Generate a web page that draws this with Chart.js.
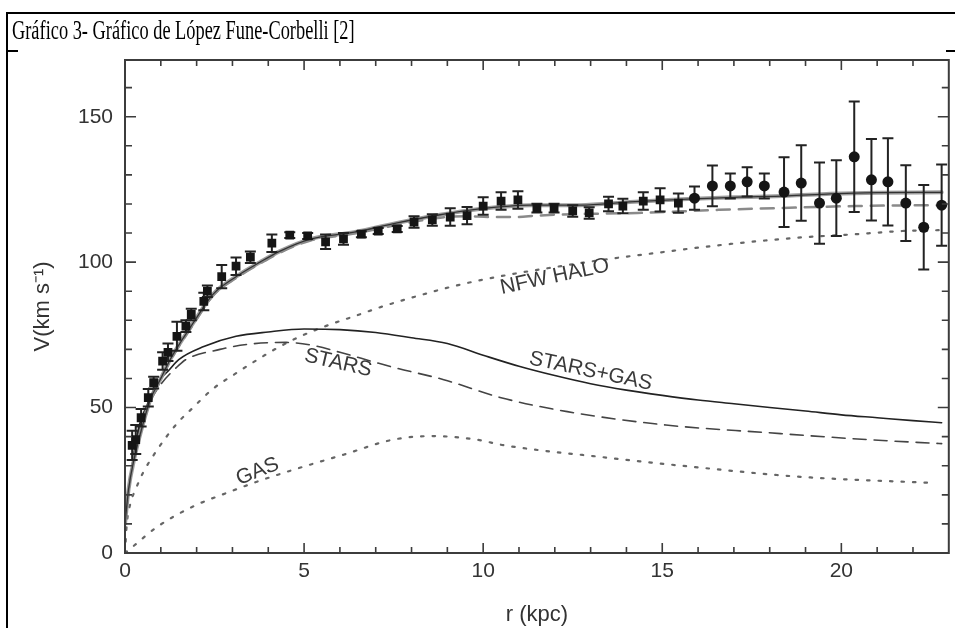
<!DOCTYPE html>
<html><head><meta charset="utf-8">
<script src="https://cdn.jsdelivr.net/npm/chart.js@4/dist/chart.umd.min.js"></script>
<style>
html,body{margin:0;padding:0;background:#fff;width:955px;height:628px;overflow:hidden;}
#wrap{position:relative;width:955px;height:628px;}
canvas{position:absolute;left:0;top:0;}
.ln{position:absolute;background:#000;}
#ttl{position:absolute;left:12px;top:17px;font-family:'Liberation Serif','Times New Roman',serif;font-size:27px;line-height:27px;white-space:nowrap;color:#000;transform:scaleX(0.68);transform-origin:0 0;}
</style></head><body>
<div id="wrap">
<canvas id="c" width="955" height="628"></canvas>
<div class="ln" style="left:6px;top:12px;width:949px;height:2px"></div>
<div class="ln" style="left:6px;top:12px;width:2px;height:616px"></div>
<div class="ln" style="left:6px;top:50px;width:12px;height:2px"></div>
<div class="ln" style="left:946px;top:50px;width:9px;height:2px"></div>
<div id="ttl">Gráfico 3- Gráfico de López Fune-Corbelli [2]</div>
</div>
<script>
// Observed rotation curve
const rData = [0.2,0.3,0.45,0.65,0.8,1.05,1.2,1.45,1.7,1.85,2.2,2.3,2.7,3.1,3.5,4.1,4.6,5.1,5.6,6.1,6.6,7.07,7.6,8.07,8.58,9.08,9.55,10.0,10.5,10.97,11.5,11.98,12.5,12.96,13.5,13.9,14.47,14.94,15.45,15.9,16.4,16.9,17.37,17.85,18.4,18.88,19.39,19.86,20.36,20.84,21.3,21.8,22.3,22.8];
const vData = [37,39,46.5,53.4,58.6,66,69,74.5,78,82,86.5,90,95,98.6,101.7,106.5,109.3,109,107,108,109.6,110.7,111.4,113.8,114.5,115.5,116,119.3,121,121.4,118.6,118.6,117.6,116.9,120,119.3,121,121.4,120.3,122,126.2,126.2,127.6,126.2,124.1,127.2,120.3,122,136.2,128.3,127.6,120.3,112,119.6];
const vErr = [5,5,3,3,2,3,3,5,2,2,3,2,4,3,2,3,1,1,2.5,2,1,1,1,2,2,3,3,3,3,3,1.5,1.5,2,2,2.5,2.5,3,4,3.3,4,7,4.3,5,4.3,12,13,14,13,19,14,15,13,14.5,14];

// Model curves
const totalR = [0,0.1,0.25,0.45,0.7,1,1.26,1.9,2.46,3.1,3.77,4.33,5.2,6.4,7.6,8.8,9.9,11.3,12.7,14.1,15.7,17,18.5,19.7,21,22.8];
const totalV = [10,22,32,42,52.5,60,66.5,79,89,95,100,103.8,108,110.3,113.5,116.3,118.3,119.6,119.6,120.7,121.7,122.3,122.8,123.5,123.9,124];
const totalDashR = [0,0.1,0.25,0.45,0.7,1,1.26,1.9,2.46,3.1,3.77,4.33,5.2,6.4,7.6,8.8,9.5,10.2,10.9,11.5,12.5,14.3,16.6,18.3,20.4,22.8];
const totalDashV = [10,22,32,42,52,59.5,66,78.5,88.5,94.5,99.5,103.3,107.5,109.8,112.8,115.3,115.8,115.5,115.5,116,116.5,116.9,118,118.6,119.3,119.6];
const haloR = [0,0.05,0.15,0.3,0.5,0.9,1.45,1.9,2.46,3,3.7,4.25,4.9,5.6,6.5,7.2,8.15,9.1,10,11,12,13,14,14.6,16,17.5,19,20.4,21.7,22.8];
const haloV = [0,10,17,22,27.5,35.5,44.5,50,56.5,61,66.5,70.5,74.5,78,81.8,84.8,88.3,91.5,94,96.3,98.3,100.2,101.9,102.8,105,107,108.6,109.6,110.7,111];
const starsGasR = [0,0.2,0.4,0.7,0.9,1.2,1.5,2.2,3.1,4,5,6,7,8,9,10,11,12,13,14,15,16,17,18,19,20,21,22,22.8];
const starsGasV = [10,30,44,53,58.6,62.5,66.5,71,74.5,76,77,76.8,75.8,74,72,68,64.2,61,58.2,56,54.2,52.6,51.3,50,48.8,47.5,46.5,45.5,44.8];
const starsR = [0,0.2,0.4,0.7,1,1.5,1.7,2.65,3.4,4.5,5.2,6,7,7.5,8.9,10.5,12.35,15.1,17.9,20.7,22.8];
const starsV = [10,30,43,52,58,64.5,66.5,70,71.7,72.4,71.5,69,65.5,63.8,59.6,53.4,48.6,44,41.4,39,37.6];
const gasR = [0,0.2,0.9,1.9,2.85,3.8,4.7,6.1,7.5,8.6,9.8,10.6,13.3,16.1,18.85,22.5];
const gasV = [0,2,9,16,20.7,25,28.6,33.8,39,40.2,39,37,33,29.3,26.2,24.1];

// Curve annotations
const curveLabels = ['NFW HALO','STARS','STARS+GAS','GAS'];
const labelR = [12.0,5.95,13.0,3.7];
const labelV = [95,65.3,62.5,28];
const labelAngle = [-12,13,12,-22];

const xTickStep = 1, xMajor = 5, yTickStep = 10, yMajor = 50;

const pts = (xs, ys) => xs.map((x, i) => ({x, y: ys[i]}));

const FONT = "'Liberation Sans', Arial, sans-serif";

const errPlugin = {
  id: 'errbars',
  beforeDatasetDraw(chart, args) {
    if (args.index !== 0) return;
    const {ctx, scales: {x, y}} = chart;
    ctx.save();
    ctx.strokeStyle = '#222';
    ctx.lineWidth = 2;
    rData.forEach((r, i) => {
      const px = x.getPixelForValue(r);
      const y1 = y.getPixelForValue(vData[i] + vErr[i]);
      const y2 = y.getPixelForValue(vData[i] - vErr[i]);
      ctx.beginPath();
      ctx.moveTo(px, y1); ctx.lineTo(px, y2);
      ctx.moveTo(px - 5.5, y1); ctx.lineTo(px + 5.5, y1);
      ctx.moveTo(px - 5.5, y2); ctx.lineTo(px + 5.5, y2);
      ctx.stroke();
    });
    ctx.restore();
  }
};

const framePlugin = {
  id: 'frame',
  afterDatasetsDraw(chart) {
    const {ctx, chartArea: a, scales: {x, y}} = chart;
    ctx.save();
    // curve labels
    ctx.fillStyle = '#3a3a3a';
    ctx.font = '21px ' + FONT;
    ctx.textAlign = 'center';
    ctx.textBaseline = 'middle';
    curveLabels.forEach((t, i) => {
      ctx.save();
      ctx.translate(x.getPixelForValue(labelR[i]), y.getPixelForValue(labelV[i]));
      ctx.rotate(labelAngle[i] * Math.PI / 180);
      ctx.fillText(t, 0, 0);
      ctx.restore();
    });
    // frame
    ctx.strokeStyle = '#3c3c3c';
    ctx.lineWidth = 2;
    ctx.strokeRect(a.left, a.top, a.right - a.left, a.bottom - a.top);
    ctx.lineWidth = 1.6;
    ctx.beginPath();
    x.ticks.forEach(t => {
      const v = t.value;
      if (Math.abs(v / xTickStep - Math.round(v / xTickStep)) > 1e-6 || v <= x.min || v >= x.max) return;
      const len = (Math.abs(v % xMajor) < 1e-6) ? 10 : 6;
      const px = x.getPixelForValue(v);
      ctx.moveTo(px, a.bottom); ctx.lineTo(px, a.bottom - len);
      ctx.moveTo(px, a.top); ctx.lineTo(px, a.top + len);
    });
    y.ticks.forEach(t => {
      const v = t.value;
      if (Math.abs(v / yTickStep - Math.round(v / yTickStep)) > 1e-6 || v <= y.min || v >= y.max) return;
      const len = (Math.abs(v % yMajor) < 1e-6) ? 11 : 7;
      const py = y.getPixelForValue(v);
      ctx.moveTo(a.left, py); ctx.lineTo(a.left + len, py);
      ctx.moveTo(a.right, py); ctx.lineTo(a.right - len, py);
    });
    ctx.stroke();
    ctx.restore();
  }
};

const lineDs = (data, color, width, dash) => ({
  type: 'line', data, borderColor: color, borderWidth: width, borderDash: dash || [],
  pointRadius: 0, fill: false, cubicInterpolationMode: 'monotone', borderCapStyle: 'round'
});

new Chart(document.getElementById('c'), {
  data: {
    datasets: [
      {
        type: 'scatter', data: pts(rData, vData),
        backgroundColor: '#151515', borderColor: '#151515', borderWidth: 0,
        pointStyle: ctx => (rData[ctx.dataIndex] > 15.6 ? 'circle' : 'rect'),
        pointRadius: ctx => (rData[ctx.dataIndex] > 15.6 ? 5.5 : 6.2)
      },
      lineDs(pts(totalR, totalV), '#333', 1.3),
      lineDs(pts(totalR, totalV), 'rgba(140,140,140,0.85)', 4),
      lineDs(pts(totalDashR, totalDashV), '#8a8a8a', 2.5, [13, 9]),
      lineDs(pts(starsGasR, starsGasV), '#222', 1.6),
      lineDs(pts(starsR, starsV), '#444', 1.6, [13, 8]),
      lineDs(pts(haloR, haloV), '#666', 2.2, [2.5, 9]),
      lineDs(pts(gasR, gasV), '#666', 2.2, [2.5, 9])
    ]
  },
  options: {
    responsive: false,
    animation: false,
    events: [],
    layout: {padding: {top: 60, right: 6, bottom: 0, left: 0}},
    plugins: {legend: {display: false}, tooltip: {enabled: false}},
    scales: {
      x: {
        type: 'linear', min: 0, max: 23,
        grid: {display: false, drawTicks: false},
        border: {display: false},
        ticks: {
          stepSize: xTickStep, autoSkip: false, maxRotation: 0, padding: 6,
          color: '#333', font: {family: FONT, size: 21},
          callback: v => (v % xMajor === 0 ? String(v) : '')
        },
        title: {display: true, text: 'r (kpc)', color: '#333', font: {family: FONT, size: 22}, padding: {top: 0, bottom: 0}},
        afterFit: s => { s.height = 75; }
      },
      y: {
        type: 'linear', min: 0, max: 169.5,
        grid: {display: false, drawTicks: false},
        border: {display: false},
        ticks: {
          stepSize: yTickStep, autoSkip: false, padding: 12,
          color: '#333', font: {family: FONT, size: 21},
          callback: v => (v % yMajor === 0 ? String(v) : '')
        },
        title: {display: true, text: 'V(km s\u207B\u00B9)', color: '#333', font: {family: FONT, size: 22}, padding: {top: 30, bottom: 0}},
        afterFit: s => { s.width = 125; }
      }
    }
  },
  plugins: [errPlugin, framePlugin]
});
</script>
</body></html>
